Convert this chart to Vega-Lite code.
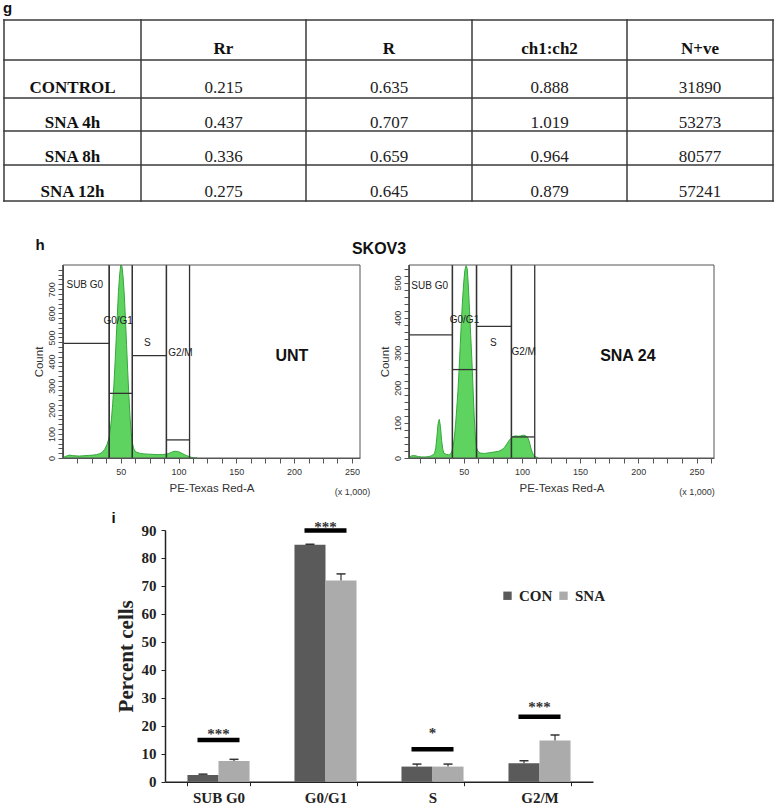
{
"$schema":"https://vega.github.io/schema/vega-lite/v6.json",
"padding":0,
"background":"white",
"bounds":"full",
"spacing":0,
"config":{"view":{"stroke":null},"concat":{"spacing":0},"axis":{"grid":false,"labelOverlap":false}},
"datasets":{
"tableHead":[{"r":0,"c":1,"t":"Rr"},{"r":0,"c":2,"t":"R"},{"r":0,"c":3,"t":"ch1:ch2"},{"r":0,"c":4,"t":"N+ve"},{"r":1,"c":0,"t":"CONTROL"},{"r":2,"c":0,"t":"SNA 4h"},{"r":3,"c":0,"t":"SNA 8h"},{"r":4,"c":0,"t":"SNA 12h"}],
"tableVals":[{"r":1,"c":1,"t":"0.215"},{"r":1,"c":2,"t":"0.635"},{"r":1,"c":3,"t":"0.888"},{"r":1,"c":4,"t":"31890"},
{"r":2,"c":1,"t":"0.437"},{"r":2,"c":2,"t":"0.707"},{"r":2,"c":3,"t":"1.019"},{"r":2,"c":4,"t":"53273"},
{"r":3,"c":1,"t":"0.336"},{"r":3,"c":2,"t":"0.659"},{"r":3,"c":3,"t":"0.964"},{"r":3,"c":4,"t":"80577"},
{"r":4,"c":1,"t":"0.275"},{"r":4,"c":2,"t":"0.645"},{"r":4,"c":3,"t":"0.879"},{"r":4,"c":4,"t":"57241"}],
"grid":[{"b":-0.5},{"b":0.5},{"b":1.5},{"b":2.5},{"b":3.5},{"b":4.5}],
"histL":[{"x":0,"count":2},{"x":2,"count":6},{"x":4,"count":10},{"x":6,"count":12},{"x":8,"count":10},{"x":11,"count":9},{"x":14,"count":8},{"x":17,"count":9},{"x":20,"count":10},{"x":23,"count":11},{"x":26,"count":12},{"x":29,"count":14},{"x":32,"count":18},{"x":34,"count":24},{"x":36,"count":35},{"x":38,"count":55},{"x":39,"count":70},{"x":40,"count":88},{"x":41,"count":120},{"x":42,"count":165},{"x":43,"count":225},{"x":44,"count":300},{"x":45,"count":390},{"x":46,"count":490},{"x":47,"count":590},{"x":48,"count":690},{"x":49,"count":760},{"x":50,"count":800},{"x":51,"count":795},{"x":52,"count":750},{"x":53,"count":680},{"x":54,"count":580},{"x":55,"count":470},{"x":56,"count":360},{"x":57,"count":260},{"x":58,"count":170},{"x":59,"count":105},{"x":60,"count":65},{"x":61,"count":42},{"x":62,"count":30},{"x":64,"count":23},{"x":67,"count":19},{"x":70,"count":17},{"x":74,"count":16},{"x":78,"count":15},{"x":82,"count":14},{"x":86,"count":14},{"x":89,"count":16},{"x":91,"count":18},{"x":93,"count":22},{"x":95,"count":26},{"x":97,"count":28},{"x":99,"count":27},{"x":101,"count":24},{"x":103,"count":19},{"x":105,"count":14},{"x":107,"count":10},{"x":109,"count":6},{"x":111,"count":3},{"x":113,"count":1},{"x":116,"count":0}],
"histR":[{"x":3,"count":2},{"x":5,"count":6},{"x":7,"count":7},{"x":9,"count":6},{"x":11,"count":4},{"x":14,"count":3},{"x":17,"count":3},{"x":20,"count":4},{"x":22,"count":6},{"x":24,"count":10},{"x":25,"count":14},{"x":26,"count":28},{"x":27,"count":62},{"x":28,"count":98},{"x":29,"count":110},{"x":30,"count":90},{"x":31,"count":50},{"x":32,"count":25},{"x":33,"count":14},{"x":35,"count":10},{"x":37,"count":9},{"x":38,"count":10},{"x":39,"count":13},{"x":40,"count":20},{"x":41,"count":35},{"x":42,"count":60},{"x":43,"count":95},{"x":44,"count":140},{"x":45,"count":190},{"x":46,"count":250},{"x":47,"count":320},{"x":48,"count":390},{"x":49,"count":450},{"x":50,"count":500},{"x":51,"count":535},{"x":52,"count":548},{"x":53,"count":540},{"x":54,"count":490},{"x":55,"count":420},{"x":56,"count":350},{"x":57,"count":280},{"x":58,"count":200},{"x":59,"count":120},{"x":60,"count":60},{"x":61,"count":30},{"x":62,"count":20},{"x":64,"count":14},{"x":68,"count":13},{"x":72,"count":15},{"x":76,"count":17},{"x":80,"count":19},{"x":83,"count":24},{"x":85,"count":30},{"x":87,"count":40},{"x":89,"count":50},{"x":91,"count":58},{"x":93,"count":62},{"x":95,"count":63},{"x":97,"count":62},{"x":99,"count":63},{"x":101,"count":65},{"x":103,"count":64},{"x":105,"count":58},{"x":106,"count":50},{"x":107,"count":38},{"x":108,"count":25},{"x":109,"count":15},{"x":110,"count":8},{"x":112,"count":3},{"x":114,"count":0}],
"gatesL":[{"gate":"SUB G0","x0":0,"x1":40,"level":475,"lx":3,"ly":717},{"gate":"G0/G1","x0":40,"x1":60,"level":268,"lx":35,"ly":569},{"gate":"S","x0":60,"x1":89.5,"level":424,"lx":70,"ly":478},{"gate":"G2/M","x0":89.5,"x1":109.5,"level":75,"lx":91,"ly":436}],
"gatesR":[{"gate":"SUB G0","x0":3,"x1":40.3,"level":351,"lx":5,"ly":491},{"gate":"G0/G1","x0":40.3,"x1":61,"level":252,"lx":38,"ly":394},{"gate":"S","x0":61,"x1":91,"level":375,"lx":72.5,"ly":328},{"gate":"G2/M","x0":91,"x1":111,"level":60,"lx":91,"ly":301}],
"bars":[{"phase":"SUB G0","group":"CON","value":2.4,"hi":2.7},{"phase":"SUB G0","group":"SNA","value":7.4,"hi":8.0},
{"phase":"G0/G1","group":"CON","value":84.7,"hi":84.9},{"phase":"G0/G1","group":"SNA","value":71.9,"hi":74.3},
{"phase":"S","group":"CON","value":5.4,"hi":6.3},{"phase":"S","group":"SNA","value":5.4,"hi":6.3},
{"phase":"G2/M","group":"CON","value":6.6,"hi":7.5},{"phase":"G2/M","group":"SNA","value":14.7,"hi":16.7}],
"sig":[{"phase":"SUB G0","bar":14.9,"star":18.2,"stars":"***"},{"phase":"G0/G1","bar":89.8,"star":92.1,"stars":"***"},{"phase":"S","bar":11.6,"star":18.6,"stars":"*"},{"phase":"G2/M","bar":23.2,"star":27.7,"stars":"***"}]
},
"vconcat":[
{"width":776,"height":258,
 "layer":[
  {"data":{"name":"grid"},"mark":{"type":"rule","color":"#3a3a3a","strokeWidth":1.5,"strokeCap":"square"},
   "encoding":{"x":{"field":"b","type":"quantitative","scale":{"type":"linear","domain":[-1,-0.5,0.5,1.5,2.5,3.5,4.5,5],"range":[0,4,141,306,472,627,773,776],"nice":false,"zero":false},"axis":null},
               "y":{"datum":-0.5,"type":"quantitative","scale":{"type":"linear","domain":[-1,-0.5,0.5,1.5,2.5,3.5,4.5,5.5],"range":[0,20,60,98,131,165,201,258],"nice":false,"zero":false},"axis":null},
               "y2":{"datum":4.5}}},
  {"data":{"name":"grid"},"mark":{"type":"rule","color":"#3a3a3a","strokeWidth":1.5,"strokeCap":"square"},
   "encoding":{"y":{"field":"b","type":"quantitative","axis":null},
               "x":{"datum":-0.5,"type":"quantitative","axis":null},
               "x2":{"datum":4.5}}},
  {"data":{"name":"tableHead"},"mark":{"type":"text","font":"Liberation Serif","fontSize":17,"fontWeight":"bold","baseline":"middle","align":"center","dy":8.5,"color":"#111"},
   "encoding":{"x":{"field":"c","type":"quantitative","axis":null},"y":{"field":"r","type":"quantitative","axis":null},"text":{"field":"t"}}},
  {"data":{"name":"tableVals"},"mark":{"type":"text","font":"Liberation Serif","fontSize":17,"baseline":"middle","align":"center","dy":8.5,"color":"#222"},
   "encoding":{"x":{"field":"c","type":"quantitative","axis":null},"y":{"field":"r","type":"quantitative","axis":null},"text":{"field":"t"}}},
  {"data":{"values":[{}]},"mark":{"type":"text","text":"g","font":"Liberation Sans","fontSize":15,"fontWeight":"bold","align":"left","baseline":"middle","color":"#111"},
   "encoding":{"x":{"datum":-0.62,"type":"quantitative","axis":null},"y":{"datum":-0.8,"type":"quantitative","axis":null}}},
  {"data":{"values":[{}]},"mark":{"type":"text","text":"h","font":"Liberation Sans","fontSize":15,"fontWeight":"bold","align":"left","baseline":"middle","color":"#111"},
   "encoding":{"x":{"datum":-0.27,"type":"quantitative","axis":null},"y":{"datum":5.27,"type":"quantitative","axis":null}}},
  {"data":{"values":[{}]},"mark":{"type":"text","text":"SKOV3","font":"Liberation Sans","fontSize":16,"fontWeight":"bold","align":"center","baseline":"middle","color":"#111"},
   "encoding":{"x":{"datum":1.94,"type":"quantitative","axis":null},"y":{"datum":5.34,"type":"quantitative","axis":null}}}
 ]},
{"hconcat":[
 {"width":388,"height":242,
  "layer":[
   {"data":{"name":"histL"},"mark":{"type":"area","color":"#5fd35f","opacity":1,"line":{"color":"#35a83c","strokeWidth":1}},
    "encoding":{
     "x":{"field":"x","type":"quantitative","title":"PE-Texas Red-A","scale":{"domain":[0,257],"range":[63,360],"nice":false,"zero":false},
      "axis":{"orient":"bottom","offset":-42,"tickCount":200,"values":[12.5,25,37.5,50,62.5,75,87.5,100,112.5,125,137.5,150,162.5,175,187.5,200,212.5,225,237.5,250],"labelExpr":"datum.value == 250 ? ['250', '(x 1,000)'] : (datum.value % 50 == 0 ? datum.label : '')","labelFlush":false,"labelOverlap":false,"tickSize":5,"tickColor":"#555","domainColor":"#555","labelPadding":4,"labelFont":"Liberation Sans Narrow, Liberation Sans","labelFontSize":9,"labelColor":"#333","labelLineHeight":20,"title":"PE-Texas Red-A","titleFont":"Liberation Sans","titleFontSize":11.5,"titleFontWeight":"normal","titleColor":"#333","titleY":30,"titleBaseline":"middle"}},
     "y":{"field":"count","type":"quantitative","title":"Count","scale":{"domain":[0,800],"range":[200,7],"nice":false,"zero":false},
      "axis":{"orient":"left","offset":-63,"tickCount":200,"values":[0,20,40,60,80,100,120,140,160,180,200,220,240,260,280,300,320,340,360,380,400,420,440,460,480,500,520,540,560,580,600,620,640,660,680,700,720,740,760,780],"labelExpr":"datum.value % 100 === 0 ? datum.label : ''","labelFontSize":9,"labelAngle":-90,"labelAlign":"center","labelBaseline":"bottom","labelOverlap":false,"labelFlush":false,"tickSize":5,"tickColor":"#555","domainColor":"#555","labelPadding":2,"labelFont":"Liberation Sans Narrow, Liberation Sans","labelColor":"#333","title":"Count","titleFont":"Liberation Sans","titleFontSize":11.5,"titleFontWeight":"normal","titleColor":"#333","titlePadding":3}}}},
   {"data":{"name":"gatesL"},"mark":{"type":"rule","color":"#333","strokeWidth":1.3},
    "encoding":{"x":{"field":"x0","type":"quantitative","title":"PE-Texas Red-A"},"y":{"datum":0,"type":"quantitative"},"y2":{"datum":800}}},
   {"data":{"name":"gatesL"},"mark":{"type":"rule","color":"#333","strokeWidth":1.3},
    "encoding":{"x":{"field":"x1","type":"quantitative","title":"PE-Texas Red-A"},"y":{"datum":0,"type":"quantitative"},"y2":{"datum":800}}},
   {"data":{"name":"gatesL"},"mark":{"type":"rule","color":"#333","strokeWidth":1.3},
    "encoding":{"x":{"field":"x0","type":"quantitative","title":"PE-Texas Red-A"},"x2":{"field":"x1"},"y":{"field":"level","type":"quantitative","title":"Count"}}},
   {"data":{"name":"gatesL"},"mark":{"type":"text","font":"Liberation Sans Narrow, Liberation Sans","fontSize":10,"align":"left","baseline":"middle","color":"#222"},
    "encoding":{"x":{"field":"lx","type":"quantitative","title":"PE-Texas Red-A"},"y":{"field":"ly","type":"quantitative","title":"Count"},"text":{"field":"gate"}}},
   {"data":{"values":[{}]},"mark":{"type":"rect","fill":null,"fillOpacity":0,"stroke":"#555","strokeWidth":1},
    "encoding":{"x":{"datum":0,"type":"quantitative"},"x2":{"datum":257},"y":{"datum":0,"type":"quantitative"},"y2":{"datum":800}}},
   {"data":{"values":[{}]},"mark":{"type":"text","text":"UNT","font":"Liberation Sans","fontSize":16,"fontWeight":"bold","align":"center","baseline":"middle","color":"#111"},
    "encoding":{"x":{"datum":198,"type":"quantitative"},"y":{"datum":423,"type":"quantitative"}}}
  ]},
 {"width":388,"height":242,
  "layer":[
   {"data":{"name":"histR"},"mark":{"type":"area","color":"#5fd35f","opacity":1,"line":{"color":"#35a83c","strokeWidth":1}},
    "encoding":{
     "x":{"field":"x","type":"quantitative","title":"PE-Texas Red-A","scale":{"domain":[3,265],"range":[21,326],"nice":false,"zero":false},
      "axis":{"orient":"bottom","offset":-42,"tickCount":200,"values":[12.5,25,37.5,50,62.5,75,87.5,100,112.5,125,137.5,150,162.5,175,187.5,200,212.5,225,237.5,250,262.5],"labelExpr":"datum.value == 250 ? ['250', '(x 1,000)'] : (datum.value % 50 == 0 ? datum.label : '')","labelFlush":false,"labelOverlap":false,"tickSize":5,"tickColor":"#555","domainColor":"#555","labelPadding":4,"labelFont":"Liberation Sans Narrow, Liberation Sans","labelFontSize":9,"labelColor":"#333","labelLineHeight":20,"title":"PE-Texas Red-A","titleFont":"Liberation Sans","titleFontSize":11.5,"titleFontWeight":"normal","titleColor":"#333","titleY":30,"titleBaseline":"middle"}},
     "y":{"field":"count","type":"quantitative","title":"Count","scale":{"domain":[0,550],"range":[200,7],"nice":false,"zero":false},
      "axis":{"orient":"left","offset":-21,"tickCount":200,"values":[0,20,40,60,80,100,120,140,160,180,200,220,240,260,280,300,320,340,360,380,400,420,440,460,480,500,520,540],"labelExpr":"datum.value % 100 === 0 ? datum.label : ''","labelFontSize":9,"labelAngle":-90,"labelAlign":"center","labelBaseline":"bottom","labelOverlap":false,"labelFlush":false,"tickSize":5,"tickColor":"#555","domainColor":"#555","labelPadding":2,"labelFont":"Liberation Sans Narrow, Liberation Sans","labelColor":"#333","title":"Count","titleFont":"Liberation Sans","titleFontSize":11.5,"titleFontWeight":"normal","titleColor":"#333","titlePadding":3}}}},
   {"data":{"name":"gatesR"},"mark":{"type":"rule","color":"#333","strokeWidth":1.3},
    "encoding":{"x":{"field":"x0","type":"quantitative","title":"PE-Texas Red-A"},"y":{"datum":0,"type":"quantitative"},"y2":{"datum":550}}},
   {"data":{"name":"gatesR"},"mark":{"type":"rule","color":"#333","strokeWidth":1.3},
    "encoding":{"x":{"field":"x1","type":"quantitative","title":"PE-Texas Red-A"},"y":{"datum":0,"type":"quantitative"},"y2":{"datum":550}}},
   {"data":{"name":"gatesR"},"mark":{"type":"rule","color":"#333","strokeWidth":1.3},
    "encoding":{"x":{"field":"x0","type":"quantitative","title":"PE-Texas Red-A"},"x2":{"field":"x1"},"y":{"field":"level","type":"quantitative","title":"Count"}}},
   {"data":{"name":"gatesR"},"mark":{"type":"text","font":"Liberation Sans Narrow, Liberation Sans","fontSize":10,"align":"left","baseline":"middle","color":"#222"},
    "encoding":{"x":{"field":"lx","type":"quantitative","title":"PE-Texas Red-A"},"y":{"field":"ly","type":"quantitative","title":"Count"},"text":{"field":"gate"}}},
   {"data":{"values":[{}]},"mark":{"type":"rect","fill":null,"fillOpacity":0,"stroke":"#555","strokeWidth":1},
    "encoding":{"x":{"datum":3,"type":"quantitative"},"x2":{"datum":265},"y":{"datum":0,"type":"quantitative"},"y2":{"datum":550}}},
   {"data":{"values":[{}]},"mark":{"type":"text","text":"SNA 24","font":"Liberation Sans","fontSize":16,"fontWeight":"bold","align":"center","baseline":"middle","color":"#111"},
    "encoding":{"x":{"datum":191,"type":"quantitative"},"y":{"datum":291,"type":"quantitative"}}}
  ]}
 ],"spacing":0,"bounds":"flush"},
{"width":776,"height":306,
 "layer":[
  {"data":{"name":"bars"},"mark":{"type":"bar"},
   "encoding":{
    "x":{"field":"phase","type":"nominal","sort":["SUB G0","G0/G1","S","G2/M"],"scale":{"type":"band","domain":["SUB G0","G0/G1","S","G2/M"],"range":[165,593],"paddingInner":0.42,"paddingOuter":0.21},
     "axis":{"orient":"bottom","offset":-24.3,"title":null,"ticks":true,"tickBand":"extent","labelAngle":0,"labelFont":"Liberation Serif","labelFontWeight":"bold","labelFontSize":15,"labelColor":"#222","domainColor":"#222","domainWidth":1.5,"tickColor":"#222","tickSize":4,"labelPadding":5}},
    "xOffset":{"field":"group","type":"nominal","scale":{"domain":["CON","SNA"]}},
    "y":{"field":"value","type":"quantitative","title":"Percent cells","scale":{"domain":[0,90],"range":[281.7,30],"nice":false,"zero":false},
     "axis":{"orient":"left","offset":-165,"tickCount":100,"values":[0,10,20,30,40,50,60,70,80,90],"title":"Percent cells","titleFont":"Liberation Serif","titleFontSize":21,"titleFontWeight":"bold","titleColor":"#222","titlePadding":5,"labelFont":"Liberation Serif","labelFontWeight":"bold","labelFontSize":15,"labelColor":"#222","tickSize":4,"tickColor":"#222","labelPadding":5,"domainColor":"#222","domainWidth":1.5,"labelFlush":false,"labelOverlap":false}},
    "color":{"field":"group","type":"nominal","scale":{"domain":["CON","SNA"],"range":["#5a5a5a","#ababab"]},
     "legend":{"orient":"none","legendX":500,"legendY":588,"direction":"horizontal","title":null,"symbolType":"square","symbolSize":70,"symbolStrokeWidth":0,"labelFont":"Liberation Serif","labelFontWeight":"bold","labelFontSize":15,"labelColor":"#222","columnPadding":3,"labelOffset":4}}}},
  {"data":{"name":"bars"},"mark":{"type":"rule","color":"#333","strokeWidth":1.2},
   "encoding":{"x":{"field":"phase","type":"nominal"},"xOffset":{"field":"group","type":"nominal"},"y":{"field":"value","type":"quantitative","title":"Percent cells"},"y2":{"field":"hi"}}},
  {"data":{"name":"bars"},"mark":{"type":"tick","color":"#333","size":9,"thickness":1.5,"opacity":1},
   "encoding":{"x":{"field":"phase","type":"nominal"},"xOffset":{"field":"group","type":"nominal"},"y":{"field":"hi","type":"quantitative","title":"Percent cells"}}},
  {"data":{"name":"sig"},"mark":{"type":"tick","color":"#000","size":42,"thickness":4.5,"opacity":1},
   "encoding":{"x":{"field":"phase","type":"nominal"},"y":{"field":"bar","type":"quantitative","title":"Percent cells"}}},
  {"data":{"name":"sig"},"mark":{"type":"text","font":"Liberation Serif","fontSize":15,"fontWeight":"bold","baseline":"middle","align":"center","dy":3,"color":"#333"},
   "encoding":{"x":{"field":"phase","type":"nominal"},"y":{"field":"star","type":"quantitative","title":"Percent cells"},"text":{"field":"stars"}}},
  {"data":{"values":[{}]},"mark":{"type":"text","text":"i","font":"Liberation Sans","fontSize":15,"fontWeight":"bold","align":"center","baseline":"middle","dx":-105,"color":"#111"},
   "encoding":{"x":{"datum":"SUB G0","type":"nominal"},"y":{"datum":94.3,"type":"quantitative"}}}
 ]}
]
}
